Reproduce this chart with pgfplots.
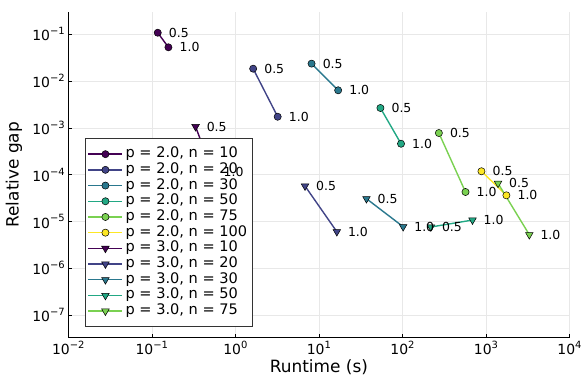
\documentclass[border=0pt]{standalone}
\usepackage{fontspec}
\setmainfont{DejaVu Sans}
\usepackage{pgfplots}
\usepackage{pgfplotstable}
\pgfplotsset{compat=1.18}

\definecolor{v1}{HTML}{440154}
\definecolor{v2}{HTML}{414487}
\definecolor{v3}{HTML}{2A788E}
\definecolor{v4}{HTML}{22A884}
\definecolor{v5}{HTML}{7AD151}
\definecolor{v6}{HTML}{FDE725}

% runtime (s), relative gap, label
\pgfplotstableread{
x y lab
0.1177 0.108 0.5
0.158 0.0527 1.0
}\ptwoa
\pgfplotstableread{
x y lab
1.633 0.0184 0.5
3.21 0.00173 1.0
}\ptwob
\pgfplotstableread{
x y lab
8.17 0.0236 0.5
17.0 0.00635 1.0
}\ptwoc
\pgfplotstableread{
x y lab
54.5 0.00266 0.5
96.2 0.000458 1.0
}\ptwod
\pgfplotstableread{
x y lab
273 0.000776 0.5
569 0.0000426 1.0
}\ptwoe
\pgfplotstableread{
x y lab
883 0.000118 0.5
1757 0.0000361 1.0
}\ptwof
\pgfplotstableread{
x y lab
0.334 0.00106 0.5
0.533 0.000114 1.0
}\pthreea
\pgfplotstableread{
x y lab
6.82 0.0000571 0.5
16.4 0.00000603 1.0
}\pthreeb
\pgfplotstableread{
x y lab
37.1 0.0000306 0.5
102 0.00000771 1.0
}\pthreec
\pgfplotstableread{
x y lab
219 0.0000076 0.5
690 0.0000107 1.0
}\pthreed
\pgfplotstableread{
x y lab
1394 0.0000653 0.5
3304 0.0000052 1.0
}\pthreee

\newcommand{\tp}[1]{10\raisebox{0.45em}{\fontsize{10}{11}\selectfont #1}}

\pgfplotsset{
  circ/.style={color=#1, line width=1.4bp, mark=*, mark size=3.6bp,
    mark options={draw=black, fill=#1, line width=0.5bp, solid}},
  tri/.style={color=#1, line width=1.4bp, mark=triangle*, mark size=4.4bp,
    mark options={draw=black, fill=#1, line width=0.5bp, rotate=180, solid}},
  lab/.style={draw=none, mark=none, nodes near coords, point meta=explicit symbolic,
    every node near coord/.append style={anchor=west, xshift=11bp, inner sep=0pt,
      text=black, font=\fontsize{12.5}{13}\selectfont}},
}

\begin{document}
\begin{tikzpicture}
\begin{axis}[name=main, xmode=log, ymode=log, scale only axis, width=501.2bp, height=326bp,
  xmin=1e-2, xmax=1e4, ymin=3.27e-8, ymax=0.304,
  axis x line*=bottom, axis y line*=left,
  axis line style={black, line width=0.8bp, -},
  tick align=inside, major tick length=4bp, tick style={black, line width=0.6bp},
  xminorticks=false, yminorticks=false,
  grid=major, major grid style={black!9, line width=0.6bp},
  xtick={1e-2,1e-1,1,1e1,1e2,1e3,1e4},
  xticklabels={\tp{−2},\tp{−1},\tp{0},\tp{1},\tp{2},\tp{3},\tp{4}},
  ytick={1e-7,1e-6,1e-5,1e-4,1e-3,1e-2,1e-1},
  yticklabels={\tp{−7},\tp{−6},\tp{−5},\tp{−4},\tp{−3},\tp{−2},\tp{−1}},
  ticklabel style={font=\fontsize{14}{15}\selectfont},
  xlabel={Runtime (s)}, ylabel={Relative gap},
  label style={font=\fontsize{17}{19}\selectfont},
  xlabel style={yshift=2bp},
  ylabel style={at={(axis description cs:-0.1086,0.5)}, anchor=center},
  legend cell align=left,
  legend image code/.code={\draw[mark repeat=2, mark phase=2] plot coordinates {(0bp,0bp) (17bp,0bp) (34bp,0bp)};},
  legend style={at={(0.0332,0.0328)}, anchor=south west, draw=black!80, line width=0.6bp,
    font=\fontsize{14.6}{15}\selectfont, inner xsep=2.5bp, inner ysep=7.7bp, row sep=0pt,
    nodes={inner xsep=2.5bp, inner ysep=0.75bp, text height=10.6bp, text depth=3.6bp}},
]
\addplot[circ=v1] table[x=x, y=y] {\ptwoa};
\addlegendentry{p = 2.0, n = 10}
\addplot[circ=v2] table[x=x, y=y] {\ptwob};
\addlegendentry{p = 2.0, n = 20}
\addplot[circ=v3] table[x=x, y=y] {\ptwoc};
\addlegendentry{p = 2.0, n = 30}
\addplot[circ=v4] table[x=x, y=y] {\ptwod};
\addlegendentry{p = 2.0, n = 50}
\addplot[circ=v5] table[x=x, y=y] {\ptwoe};
\addlegendentry{p = 2.0, n = 75}
\addplot[circ=v6] table[x=x, y=y] {\ptwof};
\addlegendentry{p = 2.0, n = 100}
\addplot[tri=v1] table[x=x, y=y] {\pthreea};
\addlegendentry{p = 3.0, n = 10}
\addplot[tri=v2] table[x=x, y=y] {\pthreeb};
\addlegendentry{p = 3.0, n = 20}
\addplot[tri=v3] table[x=x, y=y] {\pthreec};
\addlegendentry{p = 3.0, n = 30}
\addplot[tri=v4] table[x=x, y=y] {\pthreed};
\addlegendentry{p = 3.0, n = 50}
\addplot[tri=v5] table[x=x, y=y] {\pthreee};
\addlegendentry{p = 3.0, n = 75}
\end{axis}
% point labels go on top of the legend, as in the original
\begin{axis}[xmode=log, ymode=log, scale only axis, width=501.2bp, height=326bp,
  xmin=1e-2, xmax=1e4, ymin=3.27e-8, ymax=0.304, hide axis]
\addplot[lab] table[x=x, y=y, meta=lab] {\ptwoa};
\addplot[lab] table[x=x, y=y, meta=lab] {\ptwob};
\addplot[lab] table[x=x, y=y, meta=lab] {\ptwoc};
\addplot[lab] table[x=x, y=y, meta=lab] {\ptwod};
\addplot[lab] table[x=x, y=y, meta=lab] {\ptwoe};
\addplot[lab] table[x=x, y=y, meta=lab] {\ptwof};
\addplot[lab] table[x=x, y=y, meta=lab] {\pthreea};
\addplot[lab] table[x=x, y=y, meta=lab] {\pthreeb};
\addplot[lab] table[x=x, y=y, meta=lab] {\pthreec};
\addplot[lab] table[x=x, y=y, meta=lab] {\pthreed};
\addplot[lab] table[x=x, y=y, meta=lab] {\pthreee};
\end{axis}
\pgfresetboundingbox
\path[use as bounding box] ([xshift=-68.3bp, yshift=-50.7bp]main.south west) rectangle ([xshift=11.5bp, yshift=11.7bp]main.north east);
\end{tikzpicture}
\end{document}
